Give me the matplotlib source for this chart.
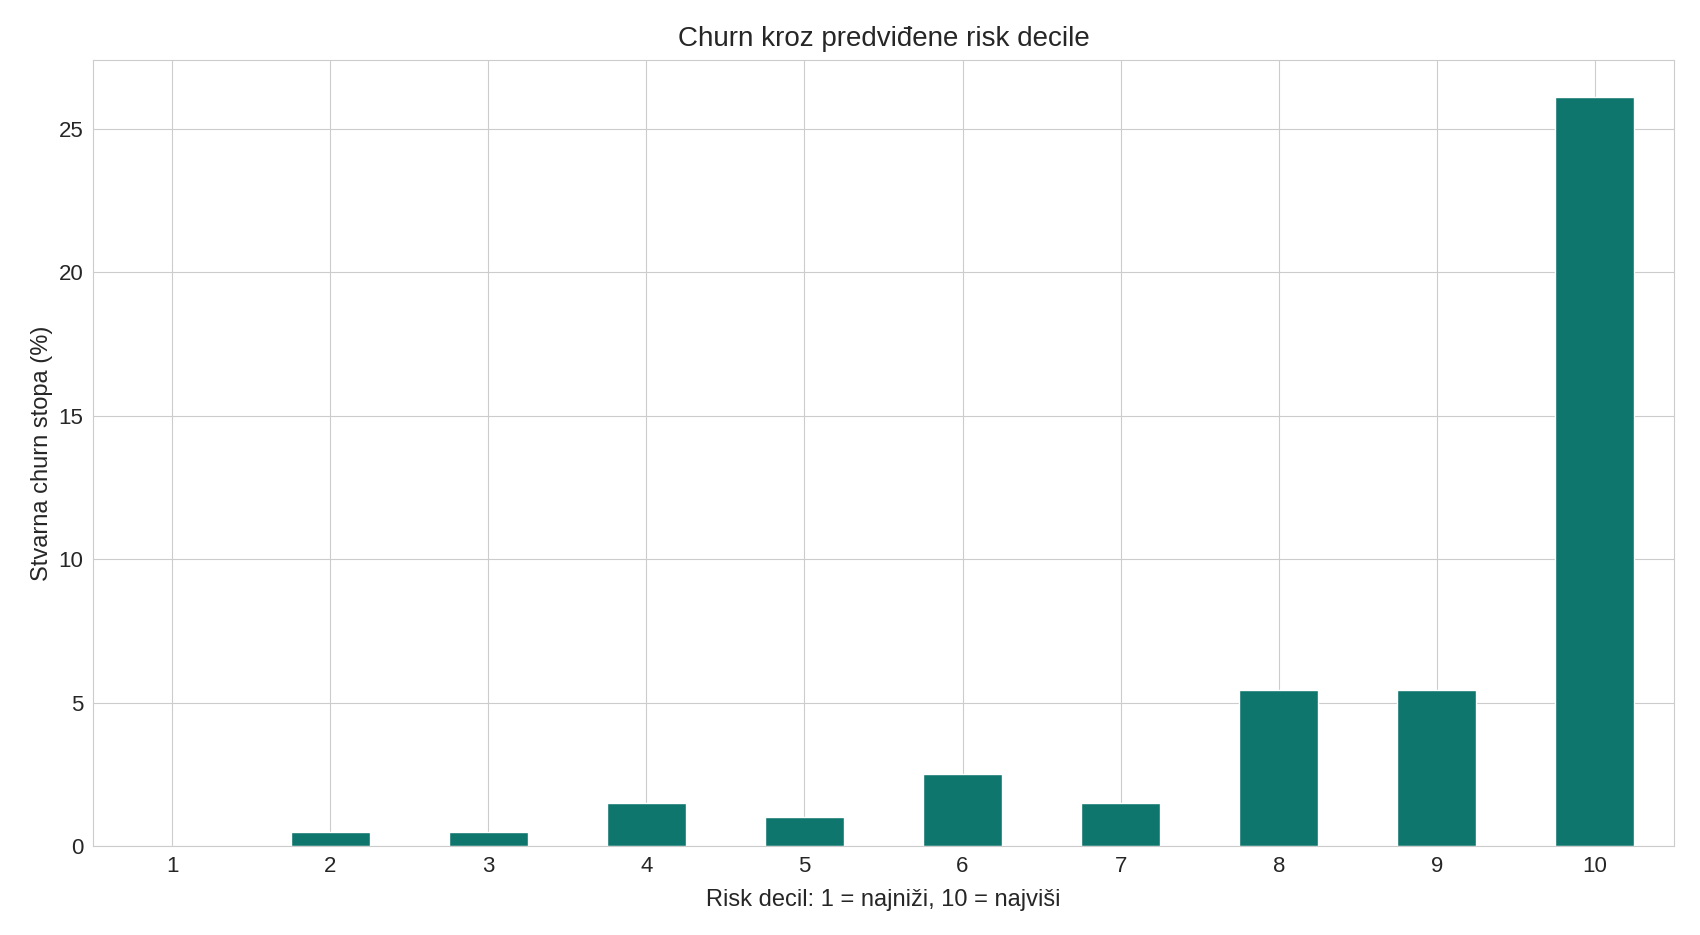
import matplotlib
matplotlib.use('Agg')
import matplotlib.pyplot as plt
import seaborn as sns

deciles = ['1', '2', '3', '4', '5', '6', '7', '8', '9', '10']
churn_rate = [0.0, 0.5, 0.5, 1.5, 1.0, 2.5, 1.5, 5.45, 5.45, 26.1]

sns.set_style('whitegrid')
plt.rcParams['font.family'] = ['Liberation Sans', 'DejaVu Sans']

fig, ax = plt.subplots(figsize=(17, 9.35), dpi=100)
fig.subplots_adjust(left=0.0547, right=0.9847, top=0.936, bottom=0.0952)

x = range(len(deciles))
ax.bar(x, churn_rate, width=0.5, color='#0f766e')
ax.set_xticks(list(x))
ax.set_xticklabels(deciles)
ax.set_xlim(-0.5, len(deciles) - 0.5)
ax.set_ylim(0, max(churn_rate) * 1.05)

ax.set_title('Churn kroz predviđene risk decile', fontsize=20, color='#262626', pad=10)
ax.set_xlabel('Risk decil: 1 = najniži, 10 = najviši', fontsize=17, color='#262626', labelpad=8.5)
ax.set_ylabel('Stvarna churn stopa (%)', fontsize=17, color='#262626')
ax.tick_params(labelsize=16, colors='#262626')

fig.savefig('out.png')
